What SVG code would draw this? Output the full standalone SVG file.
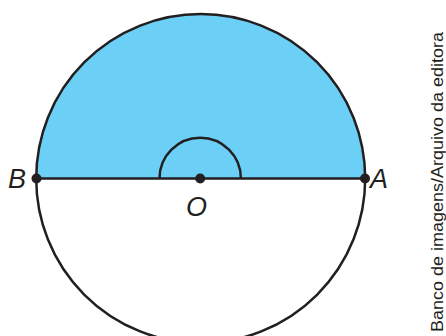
<svg xmlns="http://www.w3.org/2000/svg" width="446" height="336" viewBox="0 0 446 336">
<style>
.stroke{fill:none;stroke:#231f20;stroke-width:2.5}
.dot{fill:#231f20}
.lbl{font-family:"Liberation Sans",Arial,sans-serif;font-style:italic;font-size:27px;fill:#231f20}
.credit{font-family:"Liberation Sans",Arial,sans-serif;font-size:16px;fill:#231f20}
</style>
<rect width="446" height="336" fill="#ffffff"/>
<g id="half-disc">
<path d="M36.2 178.5 A164.5 164.5 0 0 1 365.2 178.5 Z" fill="#6ccff5"/>
</g>
<g id="circle">
<circle class="stroke" cx="200.7" cy="178.5" r="164.5"/>
</g>
<g id="connectors">
<line class="stroke" x1="36.2" y1="178.5" x2="365.2" y2="178.5"/>
<path class="stroke" d="M159.5 178.5 A40.7 40.7 0 0 1 240.9 178.5"/>
</g>
<g id="node-B">
<circle class="dot" cx="36.5" cy="178.5" r="5"/>
<text class="lbl" x="8" y="187.5">B</text>
</g>
<g id="node-A">
<circle class="dot" cx="365" cy="178.5" r="5"/>
<text class="lbl" x="370" y="187.5">A</text>
</g>
<g id="node-O">
<circle class="dot" cx="200.2" cy="178.5" r="5"/>
<text class="lbl" x="186" y="215.5">O</text>
</g>
<text class="credit" transform="translate(443 332) rotate(-90)" textLength="300" lengthAdjust="spacingAndGlyphs">Banco de imagens/Arquivo da editora</text>
</svg>
